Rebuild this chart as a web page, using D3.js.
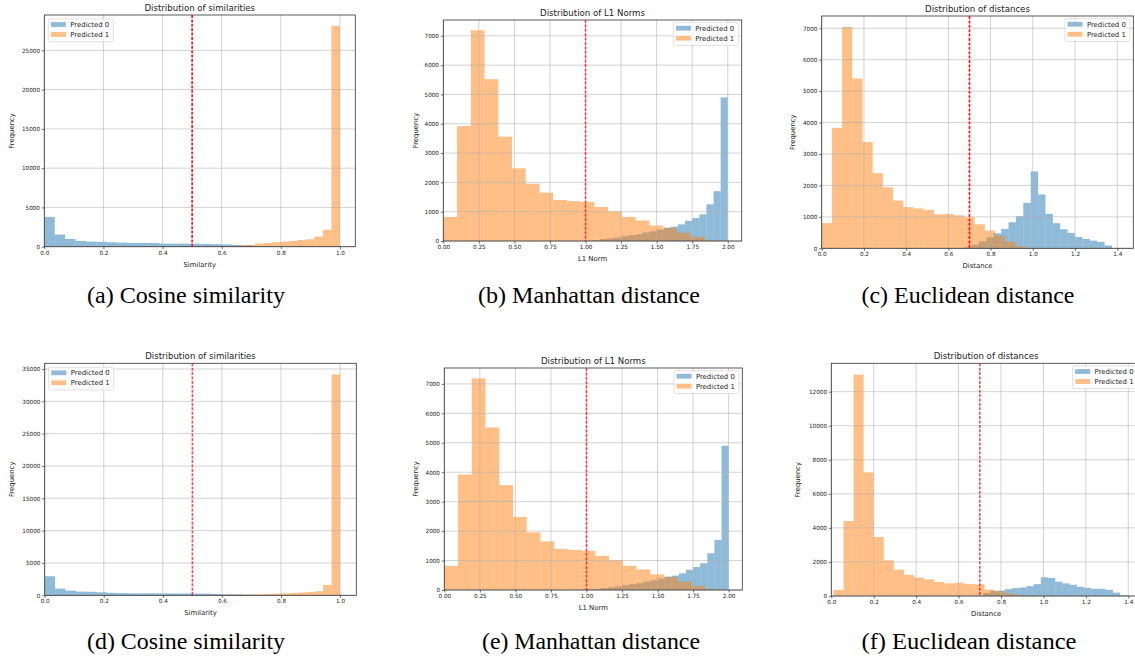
<!DOCTYPE html>
<html lang="en">
<head>
<meta charset="utf-8">
<title>Distribution plots</title>
<script src="https://cdn.jsdelivr.net/npm/d3@7"></script>
<style>
  body { margin: 0; background: #fff; }
  svg text { font-family: "DejaVu Sans", sans-serif; fill: #222; }
  svg text.caption { font-family: "Liberation Serif", "Times New Roman", serif; fill: #000; }
</style>
</head>
<body>
<script>
// series names
var seriesNames = ["Predicted 0", "Predicted 1"];

// cosine similarity, top row: 20 bins per series, [min, max] of each histogram
var cosA_range0 = [0, 0.705];
var cosA_pred0 = [3790, 1550, 990, 740, 650, 620, 570, 520, 480, 475, 470, 400, 395, 390, 385, 350, 330, 290, 230, 170];
var cosA_range1 = [0.426, 1.0];
var cosA_pred1 = [10, 15, 20, 30, 40, 55, 75, 110, 160, 220, 390, 475, 560, 650, 730, 860, 950, 1290, 2150, 28100];

// L1 norm (same in both rows)
var l1_range0 = [1.0, 2.0];
var l1_pred0 = [8, 25, 65, 90, 120, 165, 200, 230, 290, 330, 390, 456, 489, 567, 690, 780, 910, 1250, 1700, 4900];
var l1_range1 = [0, 1.932];
var l1_pred1 = [818, 3920, 7190, 5520, 3560, 2480, 1955, 1650, 1400, 1360, 1333, 1160, 1015, 820, 700, 530, 440, 280, 140, 35];

// euclidean distance, top row
var eucC_range0 = [0.675, 1.375];
var eucC_pred0 = [40, 117, 223, 350, 479, 617, 830, 1021, 1447, 2447, 1713, 1096, 798, 606, 489, 362, 298, 245, 202, 90];
var eucC_range1 = [0, 0.966];
var eucC_pred1 = [800, 3830, 7040, 5400, 3380, 2390, 1940, 1520, 1310, 1270, 1220, 1080, 1090, 1050, 990, 766, 564, 394, 210, 64];

// cosine similarity, bottom row
var cosD_range0 = [0, 0.705];
var cosD_pred0 = [2950, 1030, 720, 570, 540, 460, 380, 340, 310, 300, 300, 290, 280, 280, 270, 260, 200, 160, 130, 90];
var cosD_range1 = [0.426, 1.0];
var cosD_pred1 = [10, 15, 20, 30, 40, 50, 60, 80, 100, 130, 170, 210, 250, 300, 350, 420, 500, 620, 1600, 34170];

// euclidean distance, bottom row
var eucF_range0 = [0.716, 1.396];
var eucF_pred0 = [180, 300, 320, 400, 460, 500, 580, 700, 1100, 1060, 840, 740, 660, 540, 480, 420, 420, 360, 200, 40];
var eucF_range1 = [0.01, 0.96];
var eucF_pred1 = [350, 4400, 13000, 7260, 3465, 2095, 1540, 1240, 1080, 980, 820, 740, 780, 700, 680, 380, 280, 140, 60, 20];

// tick values
var cosXTicks = [0, 0.2, 0.4, 0.6, 0.8, 1.0];
var l1XTicks = [0, 0.25, 0.5, 0.75, 1.0, 1.25, 1.5, 1.75, 2.0];
var eucXTicks = [0, 0.2, 0.4, 0.6, 0.8, 1.0, 1.2, 1.4];
var cosAYTicks = [0, 5000, 10000, 15000, 20000, 25000];
var cosDYTicks = [0, 5000, 10000, 15000, 20000, 25000, 30000, 35000];
var l1YTicks = [0, 1000, 2000, 3000, 4000, 5000, 6000, 7000];
var eucCYTicks = [0, 1000, 2000, 3000, 4000, 5000, 6000, 7000];
var eucFYTicks = [0, 2000, 4000, 6000, 8000, 10000, 12000];

var captions = ["(a) Cosine similarity", "(b) Manhattan distance", "(c) Euclidean distance",
                "(d) Cosine similarity", "(e) Manhattan distance", "(f) Euclidean distance"];

var colors = ["#1f77b4", "#ff7f0e"];

var w = 1135, h = 658;

var panels = [
  { title: "Distribution of similarities", xlabel: "Similarity", x0: 44.3, x1: 355.3, y0: 15, y1: 246.7,
    xmax: 1.052, ymax: 29500, xticks: cosXTicks, xfmt: ".1f", yticks: cosAYTicks, thresh: 0.5,
    legend: "left", ylabOff: 32.6, thrOp: 0.95,
    series: [[cosA_range0, cosA_pred0], [cosA_range1, cosA_pred1]],
    cap: { x: 186, y: 303, len: 198 } },
  { title: "Distribution of L1 Norms", xlabel: "L1 Norm", x0: 443.3, x1: 741.7, y0: 20, y1: 241,
    xmax: 2.098, ymax: 7540, xticks: l1XTicks, xfmt: ".2f", yticks: l1YTicks, thresh: 1.0,
    legend: "right", ylabOff: 27.6, thrOp: 0.7,
    series: [[l1_range0, l1_pred0], [l1_range1, l1_pred1]],
    cap: { x: 589, y: 303, len: 222 } },
  { title: "Distribution of distances", xlabel: "Distance", x0: 821.7, x1: 1133.3, y0: 16, y1: 248.3,
    xmax: 1.476, ymax: 7390, xticks: eucXTicks, xfmt: ".1f", yticks: eucCYTicks, thresh: 0.7,
    legend: "right", ylabOff: 29, thrOp: 0.95,
    series: [[eucC_range0, eucC_pred0], [eucC_range1, eucC_pred1]],
    cap: { x: 968, y: 303, len: 213 } },
  { title: "Distribution of similarities", xlabel: "Similarity", x0: 44.7, x1: 356.3, y0: 363.3, y1: 595.3,
    xmax: 1.055, ymax: 35880, xticks: cosXTicks, xfmt: ".1f", yticks: cosDYTicks, thresh: 0.5,
    legend: "left", ylabOff: 33, thrOp: 0.7,
    series: [[cosD_range0, cosD_pred0], [cosD_range1, cosD_pred1]],
    cap: { x: 186, y: 649, len: 198 } },
  { title: "Distribution of L1 Norms", xlabel: "L1 Norm", x0: 444.3, x1: 742.3, y0: 368, y1: 590,
    xmax: 2.096, ymax: 7540, xticks: l1XTicks, xfmt: ".2f", yticks: l1YTicks, thresh: 1.0,
    legend: "right", ylabOff: 28.3, thrOp: 0.7,
    series: [[l1_range0, l1_pred0], [l1_range1, l1_pred1]],
    cap: { x: 591, y: 649, len: 218 } },
  { title: "Distribution of distances", xlabel: "Distance", x0: 831.3, x1: 1141, y0: 363.3, y1: 596,
    xmax: 1.46, ymax: 13666, xticks: eucXTicks, xfmt: ".1f", yticks: eucFYTicks, thresh: 0.7,
    legend: "right", ylabOff: 34, thrOp: 0.7,
    series: [[eucF_range0, eucF_pred0], [eucF_range1, eucF_pred1]],
    cap: { x: 969, y: 649, len: 215 } }
];

var svg = d3.select("body").append("svg")
    .attr("width", w)
    .attr("height", h);

panels.forEach(function(p, pi) {
  var x = d3.scaleLinear().domain([0, p.xmax]).range([p.x0, p.x1]);
  var y = d3.scaleLinear().domain([0, p.ymax]).range([p.y1, p.y0]);
  var g = svg.append("g");

  // bars, Predicted 0 first then Predicted 1 on top
  p.series.forEach(function(s, si) {
    var lo = s[0][0], hi = s[0][1], counts = s[1];
    var bw = (hi - lo) / counts.length;
    var bins = counts.map(function(c, i) {
      return { a: lo + i * bw, b: lo + (i + 1) * bw, c: c };
    });
    g.append("g").selectAll("rect")
      .data(bins)
      .enter()
      .append("rect")
      .attr("x", function(d) { return x(d.a); })
      .attr("width", function(d) { return x(d.b) - x(d.a); })
      .attr("y", function(d) { return y(d.c); })
      .attr("height", function(d) { return y(0) - y(d.c); })
      .attr("fill", colors[si])
      .attr("fill-opacity", 0.5);
  });

  // grid
  var grid = g.append("g").attr("stroke", "#b0b0b0").attr("stroke-opacity", 0.7).attr("stroke-width", 0.8);
  grid.selectAll(".gx").data(p.xticks).enter().append("line")
    .attr("x1", function(d) { return x(d); }).attr("x2", function(d) { return x(d); })
    .attr("y1", p.y0).attr("y2", p.y1);
  grid.selectAll(".gy").data(p.yticks).enter().append("line")
    .attr("y1", function(d) { return y(d); }).attr("y2", function(d) { return y(d); })
    .attr("x1", p.x0).attr("x2", p.x1);

  // axes
  var xAxis = d3.axisBottom(x).tickValues(p.xticks).tickFormat(d3.format(p.xfmt)).tickSize(2.5).tickPadding(1.5);
  var yAxis = d3.axisLeft(y).tickValues(p.yticks).tickFormat(d3.format("d")).tickSize(2.5).tickPadding(1.8);

  var gx = g.append("g").attr("transform", "translate(0," + p.y1 + ")").call(xAxis);
  var gy = g.append("g").attr("transform", "translate(" + p.x0 + ",0)").call(yAxis);
  [gx, gy].forEach(function(ax) {
    ax.select(".domain").remove();
    ax.selectAll("line").attr("stroke", "#333").attr("stroke-width", 0.7);
    ax.selectAll("text").attr("font-size", "5.7px").attr("font-family", "DejaVu Sans").attr("fill", "#222");
  });

  // frame
  g.append("rect")
    .attr("x", p.x0).attr("y", p.y0)
    .attr("width", p.x1 - p.x0).attr("height", p.y1 - p.y0)
    .attr("fill", "none")
    .attr("stroke", "#333")
    .attr("stroke-width", 0.8);

  // threshold line
  g.append("line")
    .attr("x1", x(p.thresh)).attr("x2", x(p.thresh))
    .attr("y1", p.y0).attr("y2", p.y1)
    .style("stroke", "#ff0000")
    .style("stroke-opacity", p.thrOp)
    .style("stroke-width", 1.6)
    .style("stroke-dasharray", "3,1.4");

  // titles and labels
  var cx = (p.x0 + p.x1) / 2;
  g.append("text").text(p.title)
    .attr("x", cx).attr("y", p.y0 - 4.3)
    .attr("text-anchor", "middle").attr("font-size", "8.6px");
  g.append("text").text(p.xlabel)
    .attr("x", cx).attr("y", p.y1 + 20)
    .attr("text-anchor", "middle").attr("font-size", "6.9px");
  var ly = (p.y0 + p.y1) / 2;
  g.append("text").text("Frequency")
    .attr("transform", "translate(" + (p.x0 - p.ylabOff + 2.4) + "," + ly + ") rotate(-90)")
    .attr("text-anchor", "middle").attr("font-size", "6.9px");

  // legend
  var lw = 65, lh = 22.7;
  var lx = p.legend === "left" ? p.x0 + 4 : p.x1 - 3.4 - lw;
  var lyTop = p.y0 + (p.legend === "left" ? 4 : 2.7);
  var lg = g.append("g").attr("transform", "translate(" + lx + "," + lyTop + ")");
  lg.append("rect")
    .attr("width", lw).attr("height", lh).attr("rx", 1.5)
    .attr("fill", "#fff").attr("fill-opacity", 0.8)
    .attr("stroke", "#ccc").attr("stroke-width", 0.6);
  seriesNames.forEach(function(name, i) {
    var rowY = 5.5 + i * 10;
    lg.append("rect")
      .attr("x", 2.6).attr("y", rowY - 2.4)
      .attr("width", 15).attr("height", 4.8)
      .attr("fill", colors[i]).attr("fill-opacity", 0.5);
    lg.append("text").text(name)
      .attr("x", 22).attr("y", rowY + 2.4)
      .attr("font-size", "6.9px");
  });

  // caption
  svg.append("text").attr("class", "caption")
    .text(captions[pi])
    .attr("x", p.cap.x - p.cap.len / 2).attr("y", p.cap.y)
    .attr("font-size", "23px")
    .attr("textLength", p.cap.len)
    .attr("lengthAdjust", "spacingAndGlyphs");
});
</script>
</body>
</html>
